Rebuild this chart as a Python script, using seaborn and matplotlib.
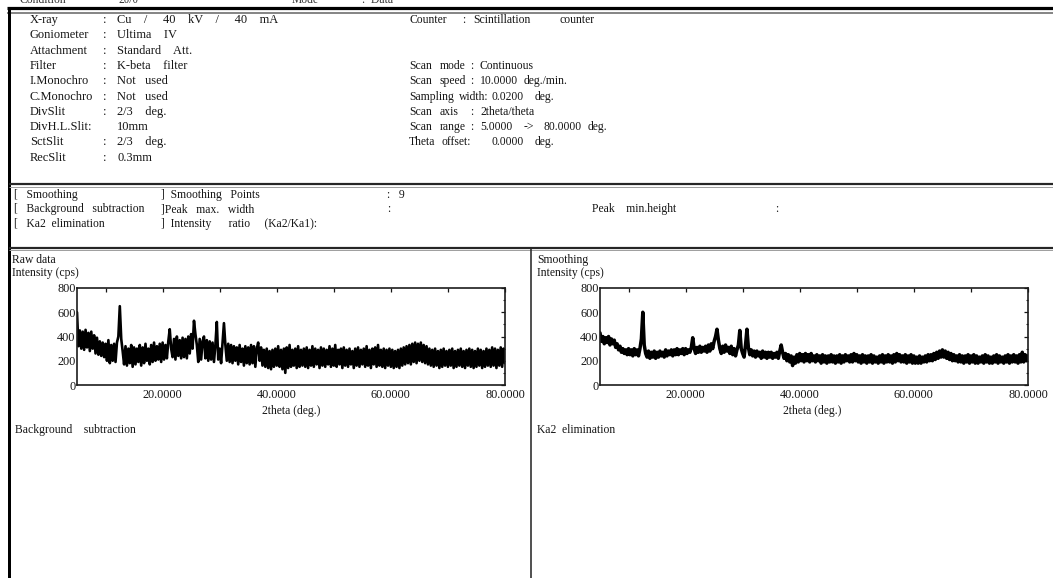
import numpy as np
import matplotlib
matplotlib.use("Agg")
import matplotlib.pyplot as plt
from matplotlib.lines import Line2D
from matplotlib.ticker import FixedLocator, MultipleLocator
import seaborn as sns

# ---------------------------------------------------------------- data
scan_start, scan_end, scan_step = 5.0, 80.0, 0.25
two_theta = np.arange(scan_start, scan_end + scan_step / 2, scan_step)

# Raw counts (cps) per 0.25 deg step, 5.00 -> 80.00 deg
raw_cps = [
    # 5.00 - 9.75
    600, 320, 450, 300, 440, 290, 455, 310, 430, 280, 440, 300, 410, 260, 390, 250, 360, 240, 350, 230,
    # 10.00 - 14.75
    340, 200, 370, 180, 330, 200, 340, 190, 350, 400, 650, 380, 280, 170, 320, 160, 300, 180, 330, 150,
    # 15.00 - 19.75
    310, 170, 300, 190, 330, 160, 310, 180, 340, 200, 300, 170, 330, 190, 350, 200, 320, 210, 340, 190,
    # 20.00 - 24.75
    350, 210, 330, 220, 360, 460, 300, 230, 380, 210, 400, 240, 370, 220, 390, 230, 380, 220, 400, 260,
    # 25.00 - 29.75
    420, 300, 530, 420, 330, 190, 380, 210, 360, 400, 220, 370, 200, 360, 210, 350, 190, 330, 520, 210,
    # 30.00 - 34.75
    300, 180, 350, 510, 330, 200, 340, 190, 330, 180, 320, 200, 310, 170, 330, 190, 300, 160, 320, 180,
    # 35.00 - 39.75
    310, 170, 330, 180, 320, 150, 300, 350, 200, 310, 160, 290, 150, 300, 140, 280, 130, 290, 150, 300,
    # 40.00 - 44.75
    160, 320, 150, 290, 130, 300, 100, 310, 140, 330, 150, 290, 160, 300, 140, 320, 150, 290, 160, 300,
    # 45.00 - 49.75
    150, 310, 140, 290, 160, 320, 150, 300, 170, 290, 140, 310, 160, 300, 150, 290, 170, 320, 150, 300,
    # 50.00 - 54.75
    160, 330, 150, 290, 170, 300, 140, 310, 160, 290, 150, 300, 170, 280, 140, 300, 160, 310, 150, 290,
    # 55.00 - 59.75
    170, 300, 150, 320, 160, 290, 140, 300, 170, 310, 150, 330, 160, 290, 150, 300, 140, 290, 160, 300,
    # 60.00 - 64.75
    150, 290, 140, 280, 150, 290, 140, 300, 160, 310, 170, 320, 180, 330, 170, 340, 190, 350, 180, 340,
    # 65.00 - 69.75
    200, 350, 190, 330, 180, 320, 170, 300, 160, 290, 150, 300, 160, 280, 140, 290, 150, 300, 160, 280,
    # 70.00 - 74.75
    150, 290, 160, 300, 140, 280, 150, 290, 160, 300, 150, 280, 140, 290, 160, 300, 150, 290, 140, 280,
    # 75.00 - 79.75
    150, 300, 160, 290, 140, 280, 150, 300, 160, 290, 150, 310, 160, 300, 140, 290, 160, 310, 150, 300,
    # 80.00
    180,
]

# Smoothed counts (cps), 9-point smoothing, same steps
smooth_cps = [
    # 5.00 - 9.75
    430, 360, 400, 340, 390, 350, 400, 330, 380, 340, 370, 310, 340, 290, 320, 270, 300, 260, 290, 250,
    # 10.00 - 14.75
    300, 250, 290, 240, 300, 250, 290, 240, 300, 380, 600, 330, 260, 230, 280, 220, 270, 230, 280, 220,
    # 15.00 - 19.75
    270, 230, 280, 240, 270, 230, 290, 240, 280, 250, 290, 240, 290, 250, 300, 250, 290, 260, 300, 250,
    # 20.00 - 24.75
    300, 260, 290, 270, 310, 390, 300, 260, 310, 270, 320, 270, 310, 280, 320, 270, 330, 280, 340, 300,
    # 25.00 - 29.75
    360, 400, 460, 370, 300, 260, 320, 270, 330, 280, 310, 260, 320, 250, 300, 240, 290, 330, 450, 300,
    # 30.00 - 34.75
    260, 230, 330, 460, 310, 250, 290, 240, 280, 230, 280, 240, 270, 220, 280, 230, 270, 220, 270, 230,
    # 35.00 - 39.75
    270, 220, 260, 230, 270, 220, 280, 330, 270, 220, 260, 200, 250, 190, 240, 160, 230, 180, 250, 190,
    # 40.00 - 44.75
    260, 200, 250, 190, 260, 200, 250, 190, 260, 200, 240, 190, 250, 200, 240, 180, 250, 190, 240, 180,
    # 45.00 - 49.75
    240, 190, 250, 190, 240, 180, 240, 190, 250, 180, 240, 190, 250, 200, 240, 190, 250, 190, 260, 200,
    # 50.00 - 54.75
    250, 190, 240, 180, 250, 190, 240, 180, 240, 190, 250, 180, 240, 190, 230, 180, 240, 190, 250, 180,
    # 55.00 - 59.75
    240, 190, 250, 190, 240, 180, 250, 190, 260, 200, 250, 190, 240, 190, 250, 180, 240, 190, 250, 180,
    # 60.00 - 64.75
    240, 180, 230, 180, 240, 180, 230, 190, 240, 190, 250, 200, 250, 200, 260, 210, 270, 220, 280, 230,
    # 65.00 - 69.75
    290, 230, 280, 220, 270, 210, 260, 200, 250, 200, 240, 190, 250, 190, 240, 180, 240, 190, 250, 180,
    # 70.00 - 74.75
    240, 190, 250, 180, 240, 180, 230, 190, 240, 180, 250, 190, 240, 180, 230, 180, 240, 190, 250, 180,
    # 75.00 - 79.75
    240, 190, 230, 180, 240, 190, 250, 180, 240, 190, 250, 190, 240, 180, 250, 190, 270, 190, 250, 200,
    # 80.00
    240,
]

x_ticks = [10, 20, 30, 40, 50, 60, 70, 80]
x_tick_labels = ["", "20.0000", "", "40.0000", "", "60.0000", "", "80.0000"]
y_ticks = [0, 200, 400, 600, 800]
y_tick_labels = ["0", "200", "400", "600", "800"]

# Measurement condition sheet
left_labels = ["X-ray", "Goniometer", "Attachment", "Filter", "I.Monochro",
               "C.Monochro", "DivSlit", "DivH.L.Slit:", "SctSlit", "RecSlit"]
left_values = ["Cu    /     40    kV    /     40    mA", "Ultima    IV", "Standard    Att.",
               "K-beta    filter", "Not   used", "Not   used", "2/3    deg.",
               "10mm", "2/3    deg.", "0.3mm"]
left_colons = [True, True, True, True, True, True, True, False, True, True]

# (row index, [(x, word), ...]) for the right-hand column
right_rows = [
    (0, [(409, "Counter"), (462, ":"), (473, "Scintillation"), (559, "counter")]),
    (3, [(409, "Scan"), (440, "mode"), (470, ":"), (480, "Continuous")]),
    (4, [(409, "Scan"), (440, "speed"), (470, ":"), (480, "10.0000"), (524, "deg./min.")]),
    (5, [(409, "Sampling"), (459, "width:"), (492, "0.0200"), (535, "deg.")]),
    (6, [(409, "Scan"), (440, "axis"), (470, ":"), (480, "2theta/theta")]),
    (7, [(409, "Scan"), (440, "range"), (470, ":"), (480, "5.0000"), (524, "->"),
         (543, "80.0000"), (588, "deg.")]),
    (8, [(409, "Theta"), (442, "offset:"), (492, "0.0000"), (535, "deg.")]),
]

# ---------------------------------------------------------------- figure
W, H = 1053, 578
sns.set_style("white")
plt.rcParams["font.family"] = ["Liberation Serif", "DejaVu Serif"]

fig = plt.figure(figsize=(W / 100, H / 100), dpi=100)
fig.patch.set_facecolor("white")

INK = "#161616"
FS = 8.4


def fx(x):
    return x / W


def fy(y):
    return 1 - y / H


def txt(x, y, s, size=FS, **kw):
    fig.text(fx(x), fy(y), s, ha=kw.pop("ha", "left"), va=kw.pop("va", "center"),
             fontsize=size, color=kw.pop("color", INK), **kw)


def rule(x0, y0, x1, y1, lw_px, color="black"):
    fig.add_artist(Line2D([fx(x0), fx(x1)], [fy(y0), fy(y1)],
                          transform=fig.transFigure, lw=lw_px * 0.72,
                          color=color, solid_capstyle="butt"))


# header line of the sheet, running off the top edge
for x, s in [(20, "Condition"), (118, "2θ/θ"), (292, "Mode"), (362, ":  Data")]:
    txt(x, 0, s, color="#333333")

# frame rules
rule(7, 7.5, W, 7.5, 3.2)
rule(7, 13, W, 13, 1.6, "#6a6a6a")
rule(8.5, 7, 8.5, H, 3.0)
rule(8.5, 184, W, 184, 2.2, "#262626")
rule(8.5, 186.5, W, 186.5, 1.0, "#a0a0a0")
rule(8.5, 248, W, 248, 2.2, "#262626")
rule(8.5, 250.5, W, 250.5, 1.0, "#a0a0a0")
rule(531, 249, 531, H, 1.6, "#2a2a2a")

# condition block
row_y = [20 + 15.3 * i for i in range(10)]
for y, lab, val, colon in zip(row_y, left_labels, left_values, left_colons):
    txt(30, y, lab, size=8.9)
    if colon:
        txt(103, y, ":", size=8.9)
    txt(117, y, val, size=8.9)

for idx, pieces in right_rows:
    for x, s in pieces:
        txt(x, row_y[idx], s)

# processing block
proc_y = [195, 209, 224]
txt(14, proc_y[0], "[   Smoothing")
txt(14, proc_y[1], "[   Background   subtraction")
txt(14, proc_y[2], "[   Ka2  elimination")
txt(161, proc_y[0], "]  Smoothing   Points")
txt(161, proc_y[1], "]Peak   max.   width")
txt(161, proc_y[2], "]  Intensity      ratio     (Ka2/Ka1):")
txt(387, proc_y[0], ":   9")
txt(387, proc_y[1], ":")
txt(592, proc_y[1], "Peak    min.height")
txt(775, proc_y[1], ":")

# section captions
txt(12, 260, "Raw data")
txt(12, 273, "Intensity (cps)")
txt(537, 260, "Smoothing")
txt(537, 273, "Intensity (cps)")
txt(15, 430, "Background    subtraction")
txt(537, 430, "Ka2  elimination")


def draw_panel(left_px, values, lw):
    ax = fig.add_axes([fx(left_px), fy(385), 428 / W, 97 / H])
    sns.lineplot(x=two_theta, y=values, ax=ax, color="black",
                 linewidth=lw, estimator=None)
    ax.set_xlim(scan_start, scan_end)
    ax.set_ylim(0, 800)
    ax.xaxis.set_major_locator(FixedLocator(x_ticks))
    ax.set_xticklabels(x_tick_labels)
    ax.yaxis.set_major_locator(FixedLocator(y_ticks))
    ax.set_yticklabels(y_tick_labels)
    ax.yaxis.set_minor_locator(MultipleLocator(100))
    ax.tick_params(which="major", direction="in", top=True, right=True,
                   length=2.6, width=0.9, labelsize=8.8, colors=INK)
    ax.tick_params(axis="x", pad=3)
    ax.tick_params(axis="y", pad=1)
    ax.tick_params(which="minor", direction="in", right=True, length=1.8, width=0.8)
    ax.set_xlabel("")
    ax.set_ylabel("")
    ax.set_facecolor("white")
    for sp in ax.spines.values():
        sp.set_linewidth(1.2)
        sp.set_color("#1c1c1c")
        sp.set_visible(True)
    return ax


draw_panel(77, raw_cps, 1.9)
draw_panel(600, smooth_cps, 2.5)

txt(291, 411, "2theta (deg.)", ha="center", size=8.4)
txt(812, 411, "2theta (deg.)", ha="center", size=8.4)

fig.savefig("out.png", dpi=100, facecolor="white")
